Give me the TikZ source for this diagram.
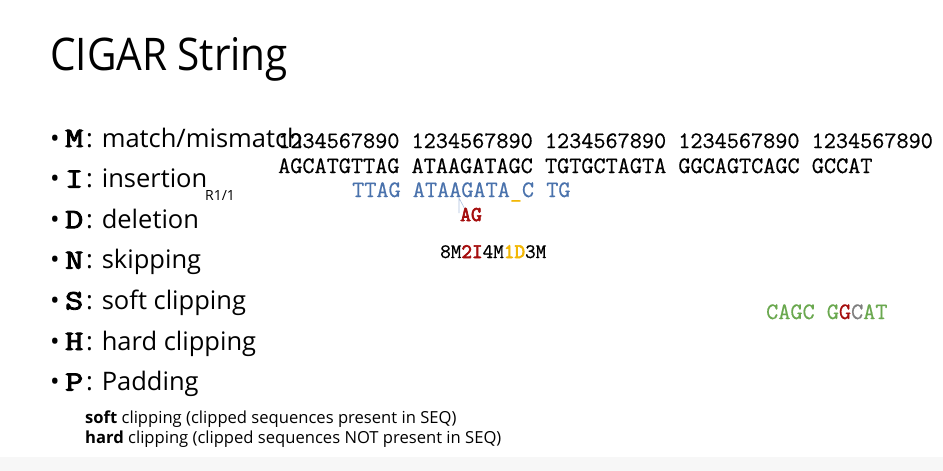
\documentclass[tikz,border=0pt]{standalone}
\usepackage{fontspec}
\setmainfont{Open Sans}
\newfontfamily\titlefont{Open Sans}[FakeStretch=0.9]
\newfontfamily\seqfont{Latin Modern Mono}[FakeBold=0.6]
\newfontfamily\seqbold{Latin Modern Mono}[FakeBold=3]
\usetikzlibrary{positioning}

\definecolor{seqblue}{HTML}{4A72AC}
\definecolor{insred}{HTML}{A50E0E}
\definecolor{delgold}{HTML}{F2B705}
\definecolor{clipgreen}{HTML}{6AA84F}
\definecolor{caretblue}{HTML}{A9BEDC}

\tikzset{
  txt/.style={anchor=base west,inner sep=0pt},
  seqrow/.style={txt,font={\seqfont\fontsize{23.55}{26}\selectfont}},
  itemline/.style={txt,font={\fontsize{25.5}{28}\selectfont}},
  notes/.style={txt,font={\fontsize{16.6}{18}\selectfont}},
}

\begin{document}
\begin{tikzpicture}[x=1pt,y=-1pt]
		\useasboundingbox (0,0) rectangle (943,471);
		\fill [gray!6] (0,457) rectangle (943,471);
		
		\coordinate (T) at (50,70);
		\coordinate (R1) at (278,148);
		\coordinate (R2) at (278,173);
		\coordinate (R3) at (352,197);
		\coordinate (C) at (440,258);
		\coordinate (G) at (766,319);
		
		\node [txt, font={\titlefont\fontsize{45}{50}\selectfont}] (title) at (T) {CIGAR String};
		
		% list of operations
		\foreach \k/\l/\t in {0/M/{match/mismatch},1/I/insertion,2/D/deletion,3/N/skipping,4/S/{soft clipping},5/H/{hard clipping},6/P/Padding}
			\node [itemline] (op\l) at (50,147+40.6*\k) {\makebox[15pt][l]{\textbullet}\makebox[21pt][l]{\scalebox{1.25}[1]{\seqbold\fontsize{28}{28}\selectfont \l}}: \t};
		
		\node [txt, font={\fontsize{14}{14}\selectfont}] (rname) at (205,200) {R1/1};
		
		% reference and read
		\node [seqrow] (pos) at (R1) {1234567890 1234567890 1234567890 1234567890 1234567890};
		\node [seqrow] (ref) at (R2) {AGCATGTTAG ATAAGATAGC TGTGCTAGTA GGCAGTCAGC GCCAT};
		\node [seqrow, text=seqblue] (read) at (R3) {TTAG ATAAGATA\textcolor{delgold}{\_}C TG};
		
		\coordinate (ins) at (459,198);
		\coordinate (insL) at (459,213);
		\coordinate (insR) at (467,213);
		\draw [caretblue, line width=0.6pt] (insL) -- (ins) -- (insR);
		\node [txt, text=insred, font={\seqbold\fontsize{21}{21}\selectfont}] (AG) at (460,221) {AG};
		
		\node [txt, font={\seqfont\fontsize{20.6}{22}\selectfont}] (cigar) at (C) {8M{\seqbold\color{insred}2I}4M{\seqbold\color{delgold}1D}3M};
		
		\node [seqrow, text=clipgreen] (clip) at (G) {CAGC G\textcolor{insred}{G}\textcolor{gray}{C}AT};
		
		\node [notes] (soft) at (85,423) {\textbf{soft} clipping (clipped sequences present in SEQ)};
		\node [notes] (hard) at (85,443) {\textbf{hard} clipping (clipped sequences NOT present in SEQ)};
		
\end{tikzpicture}
\end{document}
